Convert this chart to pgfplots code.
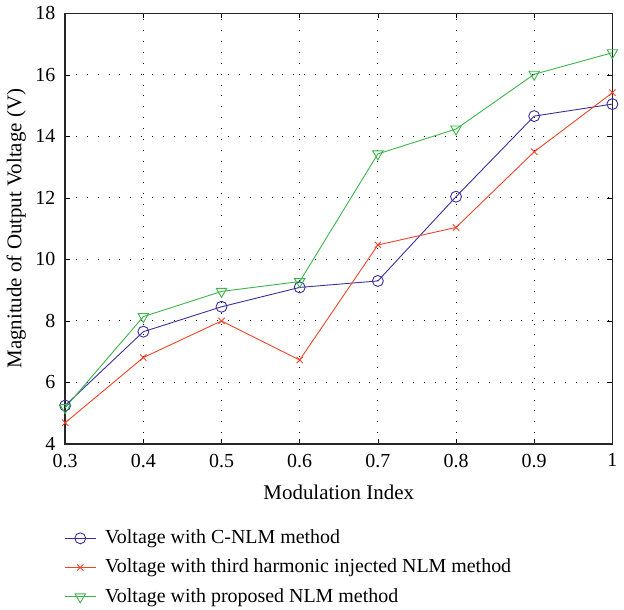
\documentclass[border=0pt]{standalone}
\usepackage{fontspec}
\setmainfont{Liberation Serif}
\usepackage{pgfplots}
\pgfplotsset{compat=1.18}

\definecolor{cnlm}{HTML}{3B2F9E}
\definecolor{thinj}{HTML}{F0442A}
\definecolor{prop}{HTML}{3BB54A}

\begin{document}
\fontsize{20}{23}\selectfont
\begin{tikzpicture}
\begin{axis}[
  scale only axis,
  width=549pt, height=432pt,
  xmin=0.3, xmax=1, ymin=4, ymax=18,
  xtick={0.3,0.4,...,1.0},
  xticklabels={0.3,0.4,0.5,0.6,0.7,0.8,0.9,1},
  ytick={4,6,...,18},
  /pgf/number format/assume math mode=true,
  ticklabel style={font=\fontsize{20}{23}\selectfont},
  yticklabel style={xshift=-3pt},
  xticklabel style={yshift=-3pt},
  label style={font=\fontsize{21}{24}\selectfont},
  xlabel={Modulation Index},
  ylabel={Magnitude of Output Voltage (V)},
  xlabel style={yshift=-4pt},
  ylabel style={yshift=-4pt},
  axis line style={line width=1.4pt, black!85},
  tick align=inside,
  major tick length=5pt,
  tick style={black, line width=0.6pt},
  xtick pos=both, ytick pos=both,
  grid=major,
  major grid style={black, line width=0.9pt, dash pattern=on 0.9pt off 10pt},
  legend style={
    at={(rel axis cs:0,0)}, anchor=north west,
    xshift=-4pt, yshift=-82pt,
    draw=none, fill=none,
    font=\fontsize{20}{23}\selectfont,
    row sep=8.5pt,
    cells={anchor=west},
  },
  legend cell align=left,
  legend image code/.code={
    \draw[mark repeat=2, mark phase=2, #1]
      plot coordinates {(0pt,0pt) (15.5pt,0pt) (31pt,0pt)};
    \path (38pt,0pt);
  },
  every axis plot/.append style={line width=0.9pt},
]
\addplot[color=cnlm, mark=o, mark size=5.5pt, mark options={line width=0.9pt}]
  coordinates {(0.3,5.25) (0.4,7.65) (0.5,8.46) (0.6,9.09) (0.7,9.30) (0.8,12.04) (0.9,14.66) (1.0,15.05)};
\addlegendentry{Voltage with C-NLM method}
\addplot[color=thinj, mark=x, mark size=4.5pt, mark options={line width=0.9pt}]
  coordinates {(0.3,4.69) (0.4,6.81) (0.5,8.00) (0.6,6.73) (0.7,10.47) (0.8,11.04) (0.9,13.50) (1.0,15.42)};
\addlegendentry{Voltage with third harmonic injected NLM method}
\addplot[color=prop, mark=triangle, mark size=6pt, mark options={rotate=180, line width=0.9pt}]
  coordinates {(0.3,5.18) (0.4,8.14) (0.5,8.96) (0.6,9.28) (0.7,13.43) (0.8,14.24) (0.9,16.02) (1.0,16.72)};
\addlegendentry{Voltage with proposed NLM method}
\end{axis}
\end{tikzpicture}
\end{document}
